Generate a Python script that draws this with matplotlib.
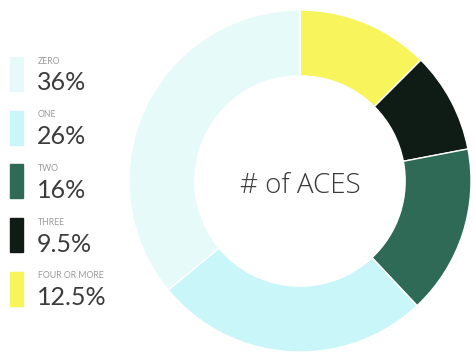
#!/usr/bin/env python3
# -*- coding: utf-8 -*-
import matplotlib
matplotlib.use("Agg")
import matplotlib.pyplot as plt
from matplotlib.patches import Rectangle

# data
categories = ["ZERO", "ONE", "TWO", "THREE", "FOUR OR MORE"]
values = [36, 26, 16, 9.5, 12.5]
pct_labels = ["36%", "26%", "16%", "9.5%", "12.5%"]
colors = ["#e6fafa", "#c9f6f8", "#2e6a55", "#0f1b15", "#f8f45c"]

W, H = 475, 354
fig = plt.figure(figsize=(W / 100, H / 100), dpi=100)
fig.patch.set_facecolor("white")

# donut, centre (300,181) px, outer radius 171 px
cx, cy, r = 300, 181, 171
ax = fig.add_axes([(cx - r) / W, (H - cy - r) / H, 2 * r / W, 2 * r / H])
# drawn clockwise from 12 o'clock, last category first
ax.pie(values[::-1], colors=colors[::-1], startangle=90, counterclock=False,
       radius=1, wedgeprops=dict(width=0.385, edgecolor="white", linewidth=1))
ax.set_xlim(-1, 1)
ax.set_ylim(-1, 1)
ax.set_aspect("equal")
ax.axis("off")
ax.text(0, -0.03, "# of ACES", ha="center", va="center", fontsize=20,
        color="#3a3a3a", family="Open Sans", fontweight="light")

# legend on the left
for i, (cat, pct, col) in enumerate(zip(categories, pct_labels, colors)):
    top = 57 + i * 53.7
    fig.patches.append(Rectangle((10 / W, 1 - (top + 34) / H), 13 / W, 34 / H,
                                 transform=fig.transFigure, color=col))
    fig.text(38 / W, 1 - (top + 4) / H, cat, fontsize=6.3, color="#9a9a9a",
             family="Lato", va="center")
    fig.text(37 / W, 1 - (top + 26) / H, pct, fontsize=18, color="#3c3c3c",
             family="Lato", va="center")

fig.savefig("out.png", dpi=100)
